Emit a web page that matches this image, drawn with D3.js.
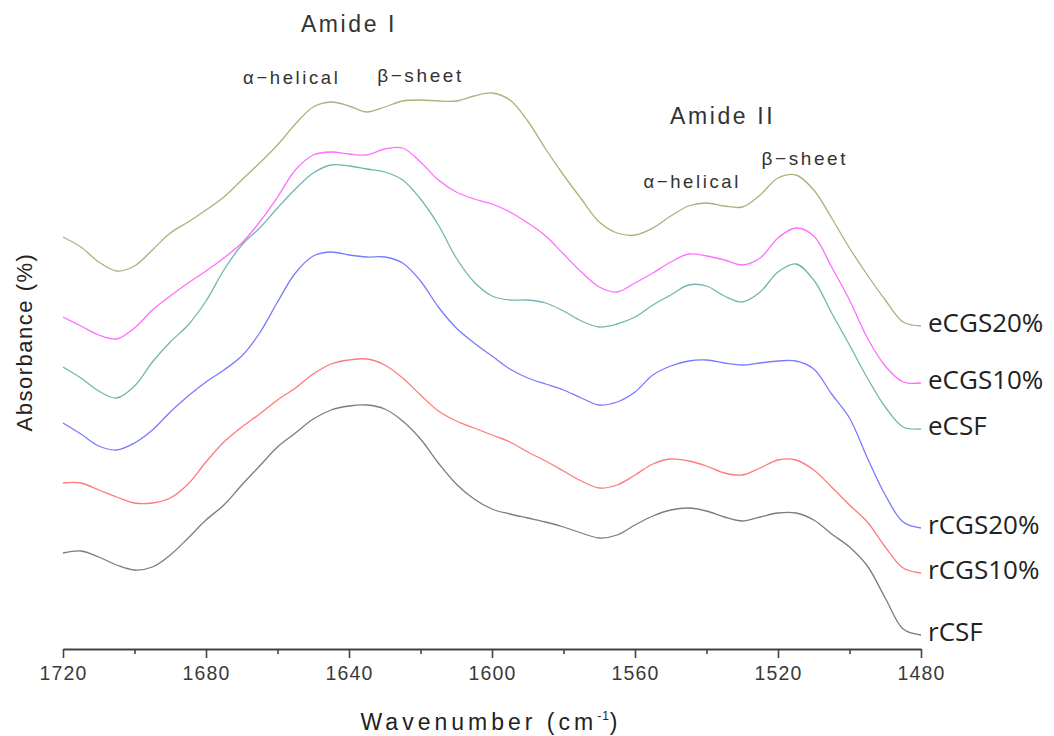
<!DOCTYPE html>
<html>
<head>
<meta charset="utf-8">
<script src="https://cdn.jsdelivr.net/npm/d3@7"></script>
<style>
  html, body { margin: 0; padding: 0; background: #fff; }
  svg { display: block; }
</style>
</head>
<body>
<div id="chart"></div>
<script>
// wavenumber grid (cm-1) the spectra were read at
const wavenumbers = [
  1720, 1715, 1710, 1705, 1700, 1695, 1690, 1685, 1680, 1675, 1670, 1665, 1660,
  1655, 1650, 1645, 1640, 1635, 1630, 1625, 1620, 1615, 1610, 1605, 1600, 1595,
  1590, 1585, 1580, 1575, 1570, 1565, 1560, 1555, 1550, 1545, 1540, 1535, 1530,
  1525, 1520, 1515, 1510, 1505, 1500, 1495, 1490, 1485, 1480
];

// stacked absorbance (offset, arbitrary units)
const eCGS20 = [82.4, 80.4, 77.4, 75.6, 76.6, 79.8, 83.2, 85.4, 87.8, 90.4, 93.8, 97.2, 100.8,
  105, 108.4, 109.4, 108.6, 107.4, 108.4, 109.6, 109.8, 109.6, 109.6, 110.6, 111.2, 109.8,
  105.6, 100, 94.8, 90, 85.4, 83.2, 82.8, 84.2, 86.6, 88.6, 89.2, 88.6, 88.4,
  90.8, 94.2, 94.8, 91.8, 86.2, 80.2, 74.8, 69.8, 65.4, 64.6];
const eCGS10 = [66.4, 64.6, 62.8, 62, 64.2, 67.8, 70.6, 73.2, 75.6, 78.2, 81.2, 85.4, 90.4,
  95.8, 98.8, 99.4, 99, 98.8, 100, 100.2, 97.4, 93.8, 91.4, 90, 89, 87.4,
  85.2, 82.6, 79, 75.4, 72.4, 71.4, 73.2, 75.2, 77.4, 79, 78.6, 77.8, 76.8,
  78.2, 82.2, 84.2, 82.6, 76.4, 69.8, 62.2, 56.6, 53.4, 53.2];
const eCSF = [56.4, 54.2, 51.6, 50.2, 52.6, 57.4, 61.4, 64.8, 69.6, 75.8, 80.8, 84.2, 88.2,
  92, 95.2, 96.8, 96.6, 96, 95.4, 93.8, 90, 84.8, 78.2, 73.4, 70.6, 69.8,
  69.8, 69.2, 67.6, 65.6, 64.4, 65, 66.4, 68.8, 70.8, 72.8, 72.6, 70.6, 69.4,
  71.4, 75.4, 77, 73.8, 67.2, 60.8, 54.2, 48.4, 44.4, 44];
const rCGS20 = [45.2, 43, 40.6, 39.8, 41.2, 43.8, 47.4, 50.6, 53.4, 55.8, 58.6, 63.2, 69.4,
  75.2, 78.6, 79.4, 78.8, 78.4, 78.4, 77.2, 73.6, 68.4, 64.2, 61.2, 58.6, 56,
  54.2, 53, 51.8, 50.2, 48.8, 49.4, 51.4, 54.8, 56.6, 57.6, 57.8, 57.2, 56.8,
  57.2, 57.6, 57.6, 56, 51, 46.2, 38.2, 30.8, 25.4, 24.2];
const rCGS10 = [33.2, 33.2, 31.8, 30.4, 29.2, 29.2, 30.2, 33, 37.4, 41.4, 44.4, 47, 49.8,
  52.2, 55, 57, 57.8, 58, 56.8, 54.2, 50.8, 47.6, 45.6, 44.2, 42.8, 41.4,
  39.4, 37.6, 35.6, 33.6, 32.2, 32.8, 34.8, 37, 38, 37.6, 36.6, 35.2, 34.8,
  36.2, 37.8, 37.8, 35.8, 32.4, 28.8, 25.4, 20.4, 16.2, 15.2];
const rCSF = [19.2, 19.6, 18.4, 16.8, 15.8, 16.4, 18.8, 22.2, 25.8, 28.8, 32.8, 36.6, 40.4,
  43.2, 46, 47.8, 48.6, 48.8, 48, 45.6, 42, 37.2, 33, 30, 28, 27,
  26.2, 25.4, 24.4, 23.2, 22.2, 22.8, 24.8, 26.6, 27.8, 28.2, 27.6, 26.4, 25.6,
  26.4, 27.2, 27.2, 25.8, 23, 20.4, 16.6, 10.2, 4, 2.8];

const seriesNames = ['eCGS20%', 'eCGS10%', 'eCSF', 'rCGS20%', 'rCGS10%', 'rCSF'];
const seriesValues = [eCGS20, eCGS10, eCSF, rCGS20, rCGS10, rCSF];
const seriesColors = ['#b1af7c', '#ff6eff', '#72b6b0', '#7a7aff', '#ff7a7a', '#7c7c7c'];

const majorTicks = [1720, 1680, 1640, 1600, 1560, 1520, 1480];
const minorTicks = [1700, 1660, 1620, 1580, 1540, 1500];

// band annotations: [text, wavenumber of centre, height in absorbance units, font size]
const annotations = [
  ['Amide I', 1640, 123.4, 23],
  ['\u03b1\u2212helical', 1656, 113, 18.5],
  ['\u03b2\u2212sheet', 1620, 113.4, 19],
  ['Amide II', 1535.5, 105, 23],
  ['\u03b1\u2212helical', 1544, 92.2, 18.5],
  ['\u03b2\u2212sheet', 1512.5, 96.8, 19],
];

const width = 1054, height = 736;
const margin = { left: 63, right: 133, top: 89, bottom: 87 };

const svg = d3.select('#chart').append('svg')
  .attr('width', width).attr('height', height);

const x = d3.scaleLinear().domain([1720, 1480]).range([margin.left, width - margin.right]);
const y = d3.scaleLinear().domain([0, 112]).range([height - margin.bottom, margin.top]);

const line = d3.line()
  .x((d, i) => x(wavenumbers[i]))
  .y(d => y(d))
  .curve(d3.curveCatmullRom.alpha(0.5));

svg.append('g').selectAll('path')
  .data(seriesValues).join('path')
  .attr('d', d => line(d))
  .attr('fill', 'none')
  .attr('stroke', (d, i) => seriesColors[i])
  .attr('stroke-width', 1.3);

// series names at right end
svg.append('g').selectAll('text')
  .data(seriesValues).join('text')
  .attr('x', x(1480) + 7)
  .attr('y', d => y(d[d.length - 1]) + 6)
  .attr('font-family', 'Open Sans, sans-serif')
  .attr('font-size', 26)
  .attr('fill', '#222')
  .text((d, i) => seriesNames[i]);

// x axis
const axisY = height - margin.bottom;
const xAxis = d3.axisBottom(x).tickValues(majorTicks).tickFormat(d3.format('d'))
  .tickSize(9).tickSizeOuter(0).tickPadding(8);
const gx = svg.append('g').attr('transform', `translate(0,${axisY})`).call(xAxis);
gx.select('.domain').attr('stroke', '#444').attr('stroke-width', 2);
gx.selectAll('.tick line').attr('stroke', '#444').attr('stroke-width', 1.6);
gx.selectAll('.tick text')
  .attr('font-family', 'Liberation Sans, Arial, sans-serif')
  .attr('font-size', 19.5).attr('letter-spacing', 1.2).attr('fill', '#3a3a3a');
const gMinor = svg.append('g').attr('transform', `translate(0,${axisY})`)
  .call(d3.axisBottom(x).tickValues(minorTicks).tickSize(5).tickFormat(''));
gMinor.select('.domain').remove();
gMinor.selectAll('.tick line').attr('stroke', '#444').attr('stroke-width', 1.6);

// axis titles
const xTitle = svg.append('text')
  .attr('x', 491).attr('y', 730)
  .attr('text-anchor', 'middle')
  .attr('font-family', 'Liberation Sans, Arial, sans-serif')
  .attr('font-size', 23).attr('letter-spacing', 4).attr('fill', '#222');
xTitle.append('tspan').text('Wavenumber (cm');
xTitle.append('tspan').attr('dy', -10).attr('font-size', 12).attr('letter-spacing', 1).text('-1');
xTitle.append('tspan').attr('dy', 10).text(')');

svg.append('text')
  .attr('transform', 'translate(32,342) rotate(-90)')
  .attr('text-anchor', 'middle')
  .attr('font-family', 'Liberation Sans, Arial, sans-serif')
  .attr('font-size', 22).attr('letter-spacing', 1.5).attr('fill', '#222')
  .text('Absorbance (%)');

// band labels
svg.append('g').selectAll('text')
  .data(annotations).join('text')
  .attr('x', d => x(d[1]))
  .attr('y', d => y(d[2]))
  .attr('text-anchor', 'middle')
  .attr('font-family', 'Liberation Sans, Arial, sans-serif')
  .attr('font-size', d => d[3])
  .attr('letter-spacing', 2.6)
  .attr('fill', '#333')
  .text(d => d[0]);
</script>
</body>
</html>
